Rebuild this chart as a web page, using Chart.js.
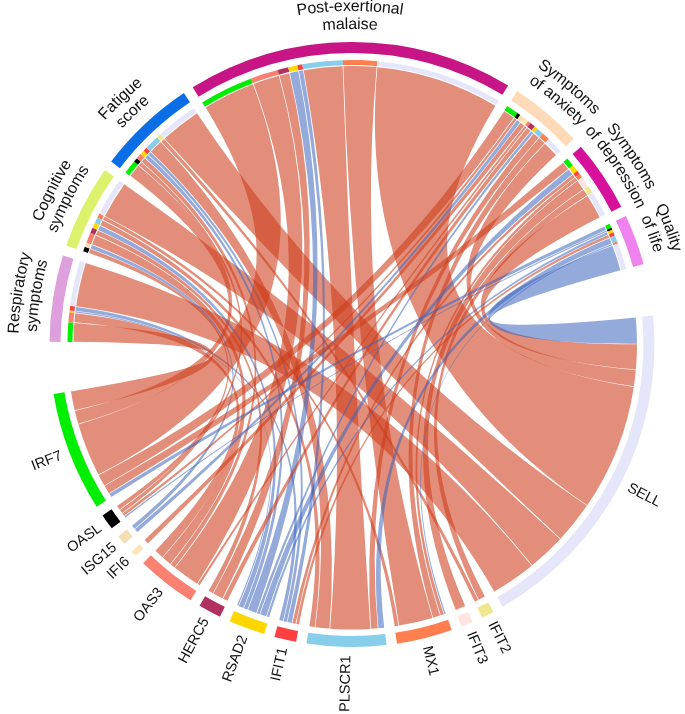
<!DOCTYPE html>
<html><head><meta charset="utf-8">
<script src="https://cdn.jsdelivr.net/npm/chart.js@4.4.0/dist/chart.umd.min.js"></script>
<style>html,body{margin:0;padding:0;background:#fff}</style>
</head><body>
<canvas id="c" width="685" height="714" style="width:685px;height:714px;display:block"></canvas>
<script>
// ---------------- data ----------------
const genes = ['SELL','IFIT2','IFIT3','MX1','PLSCR1','IFIT1','RSAD2','HERC5','OAS3','IFI6','ISG15','OASL','IRF7'];
const symptoms = ['Respiratory symptoms','Cognitive symptoms','Fatigue score','Post-exertional malaise','Symptoms of anxiety','Symptoms of depression','Quality of life'];
const symptomLabelLines = [['Respiratory','symptoms'],['Cognitive','symptoms'],['Fatigue','score'],['Post-exertional','malaise'],['Symptoms','of anxiety'],['Symptoms','of depression'],['Quality','of life']];
// signed link weights (positive = red, negative = blue); columns follow `genes`
//                     SELL IFIT2 IFIT3 MX1 PLSCR1 IFIT1 RSAD2 HERC5 OAS3 IFI6 ISG15 OASL IRF7
const respiratory   = [ 9.3, 0,   0,   0,   0,   -0.9, -0.4, 0,   2.0, 0,   0,   0,   4.0];
const cognitive     = [ 7.8, 0,   0,   0.9, 1.2,  0,   -1.1, 1.1, 2.1, 0,  -0.9, 1.0, 0  ];
const fatigue       = [ 8.6, 0.9, 0,   0,   3.0, -0.8, -0.9, 0,   1.1, 0,   0,   0.9, 2.8];
const pem           = [25.9, 0,   0,   7.0, 8.2, -1.0, -1.9, 2.2, 5.6, 0,   0,   0,  11.0];
const anxiety       = [ 3.4, 0,   0,   1.6, 1.5,  0,   -0.7, 1.1, 0.6, 1.1,-0.9, 0.7, 2.5];
const depression    = [ 5.2, 1.5, 2.2, 0.8, 0,    0.8, -1.4, 0,   0,   0,   0,   0,   1.8];
const qualityOfLife = [-5.4, 0,   0,  -0.4,-1.3,  0.7, -0.6, 0,   0,   0,   0,  -0.4, -0.9];
const matrix = [respiratory, cognitive, fatigue, pem, anxiety, depression, qualityOfLife];

// ---------------- styles ----------------
const symptomColors = ['#dda0dd','#dcf26c','#0a6fe6','#c71585','#ffdab9','#d8119d','#ee82ee'];
const geneColors = ['#e6e6fa','#f0e68c','#ffe4e1','#ff7f50','#87ceeb','#ff4040','#ffd700','#b03060','#fa8072','#ffe4b5','#f5deb3','#000000','#00ee00'];
const POS = 'rgba(205,60,25,0.58)';
const NEG = 'rgba(60,100,190,0.55)';
const NONE = 'rgba(0,0,0,0)';
const GAP = 2.0, BIG = 9.9;
const HAIR = 0.0012; // tiny angular inset so neighbouring ribbons show a hairline

// ---------------- build rings ----------------
const symTotals = matrix.map(r => r.reduce((a, v) => a + Math.abs(v), 0));
const geneTotals = genes.map((g, j) => matrix.reduce((a, r) => a + Math.abs(r[j]), 0));
const outerData = [], outerColors = [], innerData = [], innerColors = [];
const symIdx = [], geneIdx = [];
symptoms.forEach((s, i) => {
  if (i > 0) { outerData.push(GAP); outerColors.push(NONE); innerData.push(GAP); innerColors.push(NONE); }
  symIdx[i] = outerData.length;
  outerData.push(symTotals[i]); outerColors.push(symptomColors[i]);
  for (let j = genes.length - 1; j >= 0; j--) {
    const v = matrix[i][j];
    if (v !== 0) { innerData.push(Math.abs(v)); innerColors.push(geneColors[j]); }
  }
});
outerData.push(BIG); outerColors.push(NONE); innerData.push(BIG); innerColors.push(NONE);
genes.forEach((g, j) => {
  if (j > 0) { outerData.push(GAP); outerColors.push(NONE); innerData.push(GAP); innerColors.push(NONE); }
  geneIdx[j] = outerData.length;
  outerData.push(geneTotals[j]); outerColors.push(geneColors[j]);
  innerData.push(geneTotals[j]); innerColors.push(NONE);
});
outerData.push(BIG); outerColors.push(NONE); innerData.push(BIG); innerColors.push(NONE);

function drawArcText(ctx, text, cx, cy, r, phi) {
  const total = ctx.measureText(text).width;
  let ang = phi - total / r / 2;
  for (const ch of text) {
    const w = ctx.measureText(ch).width;
    const a = ang + w / r / 2;
    ctx.save();
    ctx.translate(cx + r * Math.cos(a), cy + r * Math.sin(a));
    ctx.rotate(a + Math.PI / 2);
    ctx.textAlign = 'center';
    ctx.fillText(ch, 0, 0);
    ctx.restore();
    ang += w / r;
  }
}

// ---------------- ribbons + labels plugin ----------------
const ribbons = {
  id: 'ribbons',
  beforeDatasetsDraw(chart) {
    const ctx = chart.ctx;
    const outer = chart.getDatasetMeta(0).data;
    const inner = chart.getDatasetMeta(2).data;
    const cx = outer[0].x, cy = outer[0].y;
    const rS = inner[0].innerRadius - 1;
    const rG = outer[0].innerRadius - 6.5;
    const sPos = matrix.map(() => []);
    symptoms.forEach((s, i) => {
      const arc = outer[symIdx[i]];
      const k = (arc.endAngle - arc.startAngle) / symTotals[i];
      let cur = arc.startAngle;
      for (let j = genes.length - 1; j >= 0; j--) {
        const v = Math.abs(matrix[i][j]);
        if (v) { sPos[i][j] = [cur, cur + v * k]; cur += v * k; }
      }
    });
    const gPos = matrix.map(() => []);
    genes.forEach((g, j) => {
      const arc = outer[geneIdx[j]];
      const k = (arc.endAngle - arc.startAngle) / geneTotals[j];
      let cur = arc.startAngle;
      for (let i = symptoms.length - 1; i >= 0; i--) {
        const v = Math.abs(matrix[i][j]);
        if (v) { gPos[i][j] = [cur, cur + v * k]; cur += v * k; }
      }
    });
    ctx.save();
    symptoms.forEach((s, i) => {
      genes.forEach((g, j) => {
        const v = matrix[i][j];
        if (!v) return;
        let [a1, a2] = sPos[i][j];
        let [b1, b2] = gPos[i][j];
        a1 += HAIR; a2 -= HAIR; b1 += HAIR; b2 -= HAIR;
        ctx.beginPath();
        ctx.arc(cx, cy, rS, a1, a2);
        ctx.quadraticCurveTo(cx, cy, cx + rG * Math.cos(b1), cy + rG * Math.sin(b1));
        ctx.arc(cx, cy, rG, b1, b2);
        ctx.quadraticCurveTo(cx, cy, cx + rS * Math.cos(a1), cy + rS * Math.sin(a1));
        ctx.closePath();
        ctx.fillStyle = v > 0 ? POS : NEG;
        ctx.fill();
      });
    });
    ctx.restore();
  },
  afterDraw(chart) {
    const ctx = chart.ctx;
    const outer = chart.getDatasetMeta(0).data;
    const cx = outer[0].x, cy = outer[0].y, R = outer[0].outerRadius;
    ctx.save();
    ctx.fillStyle = '#111';
    ctx.textBaseline = 'middle';
    ctx.font = '16px "Liberation Sans", Arial, sans-serif';
    symptoms.forEach((s, i) => {
      const arc = outer[symIdx[i]];
      const phi = (arc.startAngle + arc.endAngle) / 2;
      const lines = symptomLabelLines[i];
      const radii = [R + 35.5, R + 17.5];
      lines.forEach((ln, k) => drawArcText(ctx, ln, cx, cy, radii[k], phi));
    });
    ctx.font = '14.5px "Liberation Sans", Arial, sans-serif';
    genes.forEach((g, j) => {
      const arc = outer[geneIdx[j]];
      const phi = (arc.startAngle + arc.endAngle) / 2;
      const r = R + 8.5;
      ctx.save();
      ctx.translate(cx + r * Math.cos(phi), cy + r * Math.sin(phi));
      if (Math.cos(phi) >= 0) { ctx.rotate(phi); ctx.textAlign = 'left'; }
      else { ctx.rotate(phi + Math.PI); ctx.textAlign = 'right'; }
      ctx.fillText(g, 0, 0);
      ctx.restore();
    });
    ctx.restore();
  }
};

new Chart(document.getElementById('c'), {
  type: 'doughnut',
  data: {
    labels: outerData.map((v, i) => String(i)),
    datasets: [
      { data: outerData, backgroundColor: outerColors, borderWidth: 0, weight: 11 },
      { data: [1], backgroundColor: [NONE], borderWidth: 0, weight: 7 },
      { data: innerData, backgroundColor: innerColors, borderWidth: 0, weight: 5 }
    ]
  },
  options: {
    responsive: false,
    animation: false,
    events: [],
    rotation: 270.5,
    cutout: 279.5,
    layout: { padding: { left: 49.5, right: 30.5, top: 42, bottom: 67 } },
    plugins: { legend: { display: false }, tooltip: { enabled: false } }
  },
  plugins: [ribbons]
});
</script>
</body></html>
